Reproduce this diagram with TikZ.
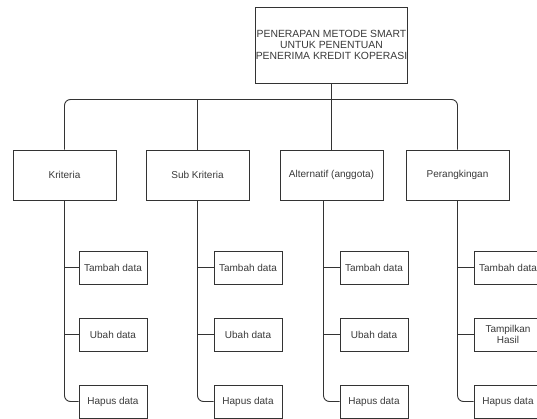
\documentclass[tikz,border=0pt]{standalone}
\usepackage{fontspec}
\setmainfont{Liberation Sans}
\usetikzlibrary{calc}
\definecolor{garis}{HTML}{333333}
\definecolor{teks}{HTML}{3A3A3A}
\tikzset{
  kotak/.style={draw=garis,line width=0.9pt,fill=white,text=teks,align=center,
    inner sep=0pt,font=\fontsize{10}{11}\selectfont},
  judul/.style={kotak,minimum width=151pt,minimum height=76pt,font=\fontsize{10.4}{11}\selectfont},
  menu/.style={kotak,minimum width=103pt,minimum height=50pt},
  submenu/.style={kotak,minimum width=68pt,minimum height=33pt},
  garisan/.style={draw=garis,line width=0.9pt}
}
\newcommand{\busy}{99.5}

\begin{document}
\begin{tikzpicture}[x=1pt,y=-1pt]
\useasboundingbox (0,0) rectangle (537,419);
\node[judul] (judul) at (331.5,45) {PENERAPAN METODE SMART\\UNTUK PENENTUAN\\PENERIMA KREDIT KOPERASI};
\node[menu] (kri) at (64.5,175) {Kriteria};
\node[menu] (sub) at (197.5,175) {Sub Kriteria};
\node[menu] (alt) at (331.5,175) {Alternatif (anggota)};
\node[menu] (per) at (457.5,175) {Perangkingan};
\coordinate (bus) at (0,\busy);
\draw[garisan,rounded corners=6pt] (kri.north) -- (kri.north |- bus) -- (per.north |- bus) -- (per.north);
\draw[garisan] (judul.south) -- (judul.south |- bus);
\foreach \m in {sub,alt}
  \draw[garisan] (\m.north) -- (\m.north |- bus);
\foreach \m/\x/\dx/\t in {kri/113/0/Ubah data,sub/248/0/Ubah data,alt/374/-8/Ubah data,per/508/0/{Tampilkan\\Hasil}}{
  \node[submenu] (\m1) at (\x,267.5) {Tambah data};
  \node[submenu] (\m2) at (\x,334.5) {\t};
  \node[submenu] (\m3) at (\x,401.5) {Hapus data};
  \coordinate (\m-s) at ([xshift=\dx]\m.south);
  \draw[garisan,rounded corners=6pt] (\m-s) |- (\m3.west);
  \draw[garisan] (\m-s |- \m1.west) -- (\m1.west);
  \draw[garisan] (\m-s |- \m2.west) -- (\m2.west);
}
\end{tikzpicture}
\end{document}
